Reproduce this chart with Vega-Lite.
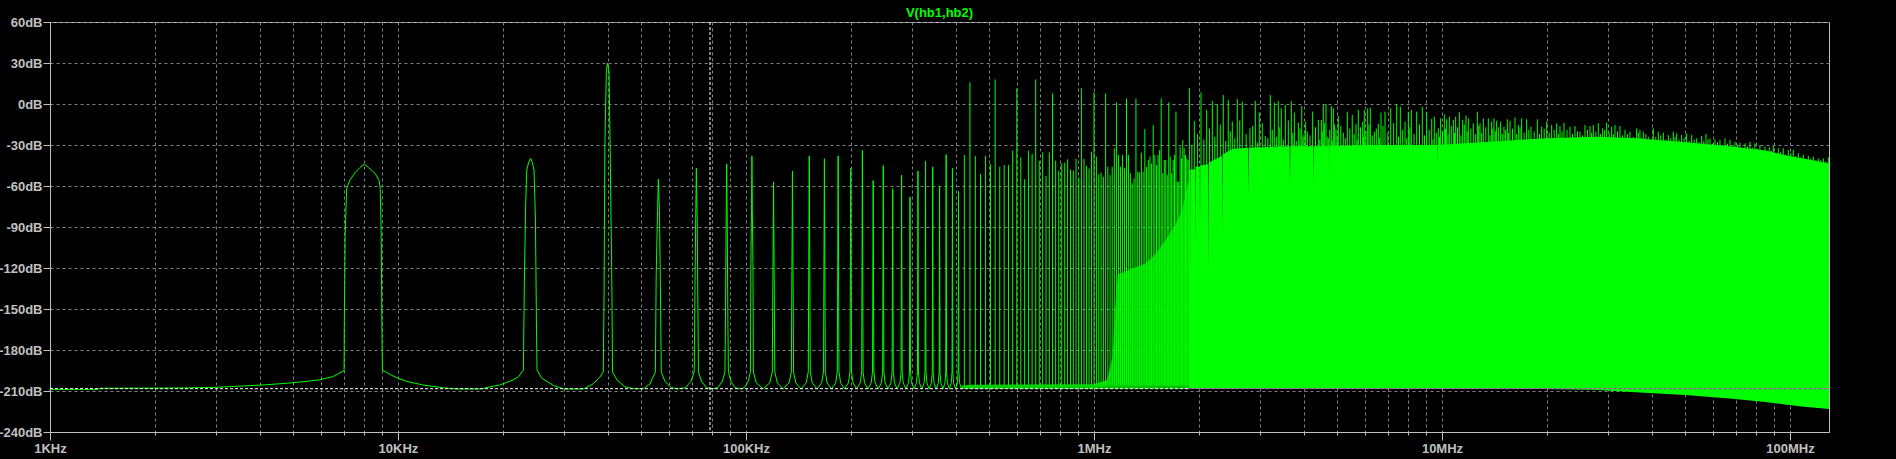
{
"$schema":"https://vega.github.io/schema/vega-lite/v6.json",
"width":1779,"height":410,
"autosize":{"type":"none"},
"padding":{"left":50,"top":22,"right":67,"bottom":27},
"background":"#000000",
"title":{"text":"V(hb1,hb2)","color":"#00ff00","font":"Liberation Sans","fontSize":13,"fontWeight":"bold","anchor":"middle","offset":-4},
"config":{"view":{"stroke":"#c0c0c0","strokeWidth":1},
"axis":{"labelColor":"#c0c0c0","labelFont":"Liberation Sans","labelFontSize":13,"labelFontWeight":"bold","gridColor":"#808080","gridDash":[3,3],"gridWidth":1,"domainColor":"#c0c0c0","tickColor":"#c0c0c0","title":null}},
"datasets":{
"lo":[
{"f":1,"v":-208.8},{"f":1.37,"v":-208.8},{"f":1.4,"v":-208},{"f":2.4,"v":-207.8},{"f":3,"v":-207.3},{"f":3.6,"v":-206.3},{"f":4.2,"v":-205.4},{"f":4.8,"v":-204.3},{"f":5.35,"v":-203.2},{"f":5.95,"v":-201.8},{"f":6.5,"v":-199.5},{"f":7,"v":-195.1},
{"f":7.01,"v":-161.7},{"f":7.05,"v":-95.9},{"f":7.12,"v":-61.7},{"f":7.28,"v":-55.6},{"f":7.52,"v":-50.3},{"f":7.78,"v":-46.4},{"f":8,"v":-44},{"f":8.22,"v":-46.4},{"f":8.59,"v":-50.8},{"f":8.82,"v":-55.6},{"f":8.89,"v":-61.7},{"f":8.95,"v":-95.9},{"f":8.99,"v":-161.7},{"f":9.02,"v":-194.6},
{"f":9.5,"v":-198},{"f":10,"v":-200.7},{"f":10.7,"v":-203.2},{"f":11.8,"v":-205.6},{"f":13.6,"v":-207.8},{"f":14.7,"v":-208.5},{"f":17.2,"v":-208.5},{"f":19.6,"v":-205.6},{"f":21.4,"v":-202},{"f":22.2,"v":-199.5},{"f":22.93,"v":-194.6},
{"f":23,"v":-161.7},{"f":23.1,"v":-121.5},{"f":23.27,"v":-73.9},{"f":23.44,"v":-48.3},{"f":23.75,"v":-42.5},{"f":24.04,"v":-39.7},{"f":24.3,"v":-42.5},{"f":24.6,"v":-48.3},{"f":24.83,"v":-84.9},{"f":24.99,"v":-158},{"f":25.09,"v":-194.6},
{"f":25.9,"v":-200.7},{"f":28,"v":-206},{"f":29.9,"v":-208.5},{"f":34.1,"v":-208.5},{"f":36.3,"v":-205},{"f":38,"v":-200},{"f":38.9,"v":-196},
{"f":39.1,"v":-140},{"f":39.3,"v":-30},{"f":39.7,"v":24},{"f":40,"v":30},{"f":40.4,"v":24},{"f":40.7,"v":-30},{"f":41.2,"v":-140},{"f":41.35,"v":-196},
{"f":42.6,"v":-201.9},{"f":44.8,"v":-206.8},{"f":47.4,"v":-208.3},{"f":50.8,"v":-208.3},{"f":52.9,"v":-205},{"f":54.9,"v":-196},
{"f":55.2,"v":-125},{"f":55.7,"v":-78},{"f":56,"v":-55},{"f":56.4,"v":-78},{"f":56.7,"v":-125},{"f":57.1,"v":-196},
{"f":58.5,"v":-203},{"f":61,"v":-207.5},{"f":64,"v":-208.5},{"f":67,"v":-207.5},{"f":69.5,"v":-203},{"f":71,"v":-196},
{"f":71.2,"v":-158},{"f":71.7,"v":-84},{"f":72,"v":-47},{"f":72.4,"v":-84},{"f":72.8,"v":-158},{"f":73,"v":-196},
{"f":74.5,"v":-203},{"f":77,"v":-207.5},{"f":80,"v":-208.5},{"f":83,"v":-207.5},{"f":85.5,"v":-203},{"f":87,"v":-196},
{"f":87.3,"v":-157},{"f":87.7,"v":-82},{"f":88,"v":-44},{"f":88.3,"v":-82},{"f":88.7,"v":-157},{"f":89,"v":-196},
{"f":90.5,"v":-203},{"f":93,"v":-207.5},{"f":96,"v":-208.5},{"f":99,"v":-207.5},{"f":101.5,"v":-203},{"f":103,"v":-196},
{"f":103.3,"v":-116},{"f":103.7,"v":-78},{"f":104,"v":-38},{"f":104.3,"v":-78},{"f":104.7,"v":-116},{"f":105,"v":-196},
{"f":107,"v":-204},{"f":112,"v":-208.5},{"f":117,"v":-204},
{"f":119,"v":-196},{"f":119.5,"v":-126},{"f":120,"v":-57},{"f":120.5,"v":-126},{"f":121,"v":-196},{"f":123,"v":-204},{"f":128,"v":-208.5},{"f":133,"v":-204},
{"f":135,"v":-196},{"f":135.5,"v":-122},{"f":136,"v":-49},{"f":136.5,"v":-122},{"f":137,"v":-196},{"f":139,"v":-204},{"f":144,"v":-208.5},{"f":149,"v":-204},
{"f":151,"v":-196},{"f":151.5,"v":-116},{"f":152,"v":-38},{"f":152.5,"v":-116},{"f":153,"v":-196},{"f":155,"v":-204},{"f":160,"v":-208.5},{"f":165,"v":-204},
{"f":167,"v":-196},{"f":167.5,"v":-118},{"f":168,"v":-40},{"f":168.5,"v":-118},{"f":169,"v":-196},{"f":171,"v":-204},{"f":176,"v":-208.5},{"f":181,"v":-204},
{"f":183,"v":-196},{"f":183.5,"v":-116},{"f":184,"v":-38},{"f":184.5,"v":-116},{"f":185,"v":-196},{"f":187,"v":-204},{"f":192,"v":-208.5},{"f":197,"v":-204},
{"f":199,"v":-196},{"f":199.5,"v":-121},{"f":200,"v":-47},{"f":200.5,"v":-121},{"f":201,"v":-196},{"f":203,"v":-204},{"f":208,"v":-208.5},{"f":213,"v":-204},
{"f":215,"v":-196},{"f":215.5,"v":-115},{"f":216,"v":-34},{"f":216.5,"v":-115},{"f":217,"v":-196},{"f":219,"v":-204},{"f":224,"v":-208.5},{"f":229,"v":-204},
{"f":231,"v":-196},{"f":231.5,"v":-126},{"f":232,"v":-56},{"f":232.5,"v":-126},{"f":233,"v":-196},{"f":235,"v":-204},{"f":240,"v":-208.5},{"f":245,"v":-204},
{"f":247,"v":-196},{"f":247.5,"v":-119},{"f":248,"v":-45},{"f":248.5,"v":-119},{"f":249,"v":-196},{"f":251,"v":-204},{"f":256,"v":-208.5},{"f":261,"v":-204},
{"f":263,"v":-196},{"f":263.5,"v":-129},{"f":264,"v":-62},{"f":264.5,"v":-129},{"f":265,"v":-196},{"f":267,"v":-204},{"f":272,"v":-208.5},{"f":277,"v":-204},
{"f":279,"v":-196},{"f":279.5,"v":-124},{"f":280,"v":-52},{"f":280.5,"v":-124},{"f":281,"v":-196},{"f":283,"v":-204},{"f":288,"v":-208.5},{"f":293,"v":-204},
{"f":295,"v":-196},{"f":295.5,"v":-131},{"f":296,"v":-68},{"f":296.5,"v":-131},{"f":297,"v":-196},{"f":299,"v":-204},{"f":304,"v":-208.5},{"f":309,"v":-204},
{"f":311,"v":-196},{"f":311.5,"v":-121},{"f":312,"v":-49},{"f":312.5,"v":-121},{"f":313,"v":-196},{"f":315,"v":-204},{"f":320,"v":-208.5},{"f":325,"v":-204},
{"f":327,"v":-196},{"f":327.5,"v":-118},{"f":328,"v":-42},{"f":328.5,"v":-118},{"f":329,"v":-196},{"f":331,"v":-204},{"f":336,"v":-208.5},{"f":341,"v":-204},
{"f":343,"v":-196},{"f":343.5,"v":-119},{"f":344,"v":-46},{"f":344.5,"v":-119},{"f":345,"v":-196},{"f":347,"v":-204},{"f":352,"v":-208.5},{"f":357,"v":-204},
{"f":359,"v":-196},{"f":359.5,"v":-128},{"f":360,"v":-60},{"f":360.5,"v":-128},{"f":361,"v":-196},{"f":363,"v":-204},{"f":368,"v":-208.5},{"f":373,"v":-204},
{"f":375,"v":-196},{"f":375.5,"v":-116},{"f":376,"v":-37},{"f":376.5,"v":-116},{"f":377,"v":-196},{"f":379,"v":-204},{"f":384,"v":-208.5},{"f":389,"v":-204},
{"f":391,"v":-196},{"f":391.5,"v":-122},{"f":392,"v":-47},{"f":392.5,"v":-122},{"f":393,"v":-196},{"f":395,"v":-204},{"f":400,"v":-208.5},{"f":405,"v":-204},
{"f":407,"v":-196},{"f":407.5,"v":-130},{"f":408,"v":-64},{"f":408.5,"v":-130},{"f":409,"v":-196},{"f":411,"v":-204},{"f":416,"v":-208.5}
],
"band1":[
{"f":416,"t":-206,"b":-208.5},{"f":440,"t":-205.5,"b":-208.5},{"f":1000,"t":-205,"b":-208.5},{"f":1090,"t":-202,"b":-208.5}
],
"band2":[
{"f":1090,"t":-202,"b":-208.5},{"f":1130,"t":-185,"b":-208.5},{"f":1150,"t":-150,"b":-208.5},{"f":1170,"t":-125,"b":-208.5},{"f":1300,"t":-120,"b":-208.5},{"f":1400,"t":-117,"b":-208.5},{"f":1500,"t":-110,"b":-208.5},{"f":1600,"t":-100,"b":-208.5},{"f":1700,"t":-90,"b":-208.5},{"f":1780,"t":-80,"b":-208.5},{"f":1840,"t":-65,"b":-208.5},{"f":1875,"t":-55,"b":-208.5}
],
"band3":[
{"f":1875,"t":-48,"b":-208.5},
{"f":1886,"t":-48,"b":-208.5},{"f":1888,"t":-121,"b":-208.5},{"f":1890,"t":-48,"b":-208.5},{"f":1953,"t":-48,"b":-208.5},{"f":1956,"t":-103,"b":-208.5},{"f":1959,"t":-46,"b":-208.5},{"f":2013,"t":-46,"b":-208.5},{"f":2017,"t":-92,"b":-208.5},{"f":2021,"t":-45,"b":-208.5},{"f":2127,"t":-44,"b":-208.5},{"f":2131,"t":-122,"b":-208.5},{"f":2135,"t":-43,"b":-208.5},{"f":2332,"t":-38,"b":-208.5},{"f":2337,"t":-94,"b":-208.5},{"f":2342,"t":-37,"b":-208.5},{"f":2500,"t":-33,"b":-208.5},{"f":2770,"t":-32,"b":-208.5},{"f":2776,"t":-66,"b":-208.5},{"f":2782,"t":-32,"b":-208.5},{"f":3650,"t":-31,"b":-208.5},{"f":3658,"t":-59,"b":-208.5},{"f":3666,"t":-31,"b":-208.5},{"f":4260,"t":-31,"b":-208.5},{"f":4268,"t":-60,"b":-208.5},{"f":4276,"t":-31,"b":-208.5},{"f":4738,"t":-31,"b":-208.5},{"f":4745,"t":-58,"b":-208.5},{"f":4752,"t":-31,"b":-208.5},{"f":6000,"t":-30,"b":-208.5},{"f":8000,"t":-30,"b":-208.5},{"f":9680,"t":-30,"b":-208.5},{"f":9696,"t":-43,"b":-208.5},{"f":9712,"t":-30,"b":-208.5},{"f":15000,"t":-27,"b":-208.5},{"f":20000,"t":-25,"b":-208.5},{"f":28000,"t":-24,"b":-209.3},{"f":36000,"t":-25,"b":-211},{"f":50000,"t":-28,"b":-213},{"f":67000,"t":-31,"b":-215.5},{"f":85000,"t":-34,"b":-218},{"f":99000,"t":-38,"b":-220.2},{"f":110000,"t":-40,"b":-221.5},{"f":129450,"t":-43.5,"b":-223.2}
],
"spk":[
{"f":424,"p":-37.3},{"f":440,"p":15.9},{"f":456,"p":-38},{"f":472,"p":-51.2},{"f":488,"p":-38},{"f":504,"p":-43.9},{"f":520,"p":18},{"f":536,"p":-45.9},{"f":552,"p":-44.6},{"f":568,"p":-44.6},{"f":584,"p":-34.1},{"f":600,"p":11.5},{"f":616,"p":-39},{"f":632,"p":-55.1},{"f":648,"p":-34.1},{"f":664,"p":-36.6},{"f":680,"p":18},{"f":696,"p":-41.5},{"f":712,"p":-35.4},{"f":728,"p":-52.7},{"f":744,"p":-35.4},{"f":760,"p":7.8},{"f":776,"p":-41.5},{"f":792,"p":-49},{"f":808,"p":-43.4},{"f":824,"p":-42.9},{"f":840,"p":-40.5},{"f":856,"p":-48},{"f":872,"p":-48.8},{"f":888,"p":-40},{"f":904,"p":-54},{"f":920,"p":11.5},{"f":936,"p":-40.2},{"f":952,"p":-45.4},{"f":968,"p":-47.1},{"f":984,"p":-34.9},{"f":1000,"p":8.6},{"f":1016,"p":-38.5},{"f":1032,"p":-51.5},{"f":1048,"p":-50.2},{"f":1064,"p":-53.2},{"f":1080,"p":7.8},{"f":1096,"p":-45.9},{"f":1112,"p":-52},{"f":1128,"p":-45.9},{"f":1144,"p":-32.4},{"f":1160,"p":1.2},{"f":1176,"p":-37.3},{"f":1192,"p":-45.9},{"f":1208,"p":-37.3},{"f":1224,"p":-47.1},{"f":1240,"p":4},{"f":1256,"p":-37.3},{"f":1272,"p":-50.7},{"f":1288,"p":-58},{"f":1304,"p":-54.4},{"f":1320,"p":4},{"f":1336,"p":-49.5},{"f":1352,"p":-50.2},{"f":1368,"p":-35.6},{"f":1384,"p":-49.5},{"f":1400,"p":-18.5},{"f":1416,"p":-45.9},{"f":1432,"p":-41},{"f":1448,"p":-38.5},{"f":1464,"p":-43.4},{"f":1480,"p":-15.4},{"f":1496,"p":-37.3},{"f":1512,"p":-44.6},{"f":1528,"p":-37.3},{"f":1544,"p":-33.7},{"f":1560,"p":4.1},{"f":1576,"p":-50.7},{"f":1592,"p":-41},{"f":1608,"p":-41},{"f":1624,"p":-52},{"f":1640,"p":1.2},{"f":1656,"p":-38.5},{"f":1672,"p":-50.7},{"f":1688,"p":-41},{"f":1704,"p":-37.3},{"f":1720,"p":-5.6},{"f":1736,"p":-56.8},{"f":1752,"p":-56.8},{"f":1768,"p":-31.2},{"f":1784,"p":-39.8},{"f":1800,"p":-26.3},{"f":1816,"p":-32.4},{"f":1832,"p":-37.3},{"f":1848,"p":-39.8},{"f":1864,"p":-41},{"f":1880,"p":11.5},
{"f":1942,"p":-12.4},{"f":2030,"p":8.5},{"f":2108,"p":-4.4},{"f":2188,"p":2.2},{"f":2261,"p":-0.2},{"f":2352,"p":6.6},{"f":2431,"p":2.9},{"f":2497,"p":-12.9},{"f":2581,"p":3.7},{"f":2668,"p":1.7},{"f":2807,"p":-17.8},{"f":2908,"p":2.2},{"f":2985,"p":-6.1},{"f":3106,"p":-23.4},{"f":3211,"p":6.6},{"f":3297,"p":1},{"f":3385,"p":2.2},{"f":3453,"p":-3.2},{"f":3546,"p":-0.7},{"f":3690,"p":2.2},{"f":3764,"p":-6.3},{"f":3865,"p":-13.7},{"f":3954,"p":-1.5},{"f":4013,"p":-22.2},{"f":4102,"p":-20.2},{"f":4250,"p":-5.6},{"f":4411,"p":-11.7},{"f":4500,"p":-11.7},{"f":4559,"p":-0.7},{"f":4642,"p":0},{"f":4713,"p":-25.1},{"f":4808,"p":-1.5},{"f":4872,"p":-3.2},{"f":4959,"p":-18.5},{"f":5035,"p":-8.8},{"f":5204,"p":-21},{"f":5344,"p":-5.6},{"f":5523,"p":-8},{"f":5661,"p":-14.6},{"f":5748,"p":-4.4},{"f":5917,"p":-12.9},{"f":5980,"p":-4.4},{"f":6116,"p":-3.2},{"f":6223,"p":-2.7},{"f":6390,"p":-20.2},{"f":6561,"p":-14.6},{"f":6679,"p":-6.3},{"f":6858,"p":-5.6},{"f":7122,"p":-3.2},{"f":7410,"p":-0.2},{"f":7590,"p":-2},{"f":7830,"p":-12.9},{"f":8003,"p":-5.6},{"f":8163,"p":-4.4},{"f":8459,"p":-5.6},{"f":8778,"p":-2},{"f":9036,"p":-5.6},{"f":9342,"p":-11},{"f":9504,"p":-9.3},{"f":9759,"p":-17.8},
{"f":1911,"p":-30},{"f":1985,"p":-22},{"f":2069,"p":-26},{"f":2148,"p":-18},{"f":2224,"p":-24},{"f":2306,"p":-15},{"f":2391,"p":-27},{"f":2464,"p":-20},{"f":2539,"p":-25},{"f":2624,"p":-12},{"f":2737,"p":-22},{"f":2857,"p":-16},{"f":2946,"p":-28},{"f":3045,"p":-14},{"f":3158,"p":-25},{"f":3254,"p":-19},{"f":3341,"p":-24},{"f":3419,"p":-17},{"f":3499,"p":-26},{"f":3617,"p":-12},{"f":3727,"p":-21},{"f":3814,"p":-27},{"f":3909,"p":-18},{"f":3983,"p":-24},{"f":4057,"p":-13},{"f":4176,"p":-23},{"f":4330,"p":-17},{"f":4455,"p":-26},{"f":4529,"p":-20},{"f":4600,"p":-14},{"f":4677,"p":-24},{"f":4760,"p":-19},{"f":4840,"p":-27},{"f":4915,"p":-15},{"f":4997,"p":-23},{"f":5119,"p":-16},{"f":5274,"p":-25},{"f":5433,"p":-18},{"f":5592,"p":-22},{"f":5704,"p":-26},{"f":5832,"p":-17},{"f":5948,"p":-24},{"f":6048,"p":-20},{"f":6169,"p":-15},{"f":6306,"p":-23},{"f":6475,"p":-18},{"f":6620,"p":-25},{"f":6768,"p":-16},{"f":6989,"p":-21},{"f":7265,"p":-14},{"f":7500,"p":-24},{"f":7709,"p":-19},{"f":7916,"p":-25},{"f":8083,"p":-17},{"f":8310,"p":-22},{"f":8617,"p":-15},{"f":8906,"p":-23},{"f":9188,"p":-19},{"f":9423,"p":-26},{"f":9631,"p":-21},{"f":9835,"p":-24},
{"f":9912,"p":-10.5},{"f":10155,"p":-7.6},{"f":10314,"p":-11.2},{"f":10498,"p":-9.3},{"f":10779,"p":-11.7},{"f":10947,"p":-9.3},{"f":11216,"p":-6.1},{"f":11466,"p":-11.7},{"f":11722,"p":-8.5},{"f":11904,"p":-10.5},{"f":12304,"p":-14.1},{"f":12634,"p":-5.6},{"f":12859,"p":-14.1},{"f":13145,"p":-10.5},{"f":13587,"p":-10.5},{"f":13890,"p":-12.9},{"f":14106,"p":-10.5},{"f":14357,"p":-12.2},{"f":14742,"p":-12.9},{"f":15071,"p":-16.6},{"f":15407,"p":-11.2},{"f":15681,"p":-12.2},{"f":16208,"p":-9.8},{"f":16570,"p":-15.4},{"f":16939,"p":-10.5},{"f":17508,"p":-11.2},{"f":18018,"p":-16.6},{"f":18790,"p":-11.2},{"f":19338,"p":-16.6},{"f":19989,"p":-12.9},{"f":20661,"p":-15.4},{"f":21355,"p":-14.1},{"f":21831,"p":-16.1},{"f":22416,"p":-13.7},{"f":23324,"p":-16.6},{"f":24108,"p":-16.1},{"f":24919,"p":-20.2},{"f":25757,"p":-15.4},{"f":26624,"p":-16.1},{"f":27218,"p":-15.4},{"f":28133,"p":-14.1},{"f":28951,"p":-17.8},{"f":29728,"p":-13.7},{"f":30728,"p":-16.6},{"f":31413,"p":-15.4},{"f":32469,"p":-16.1},{"f":33561,"p":-19},{"f":34690,"p":-20.2},{"f":36254,"p":-17.8},{"f":37063,"p":-19},{"f":37890,"p":-20.2},{"f":39163,"p":-23.9},{"f":40480,"p":-17.8},{"f":41841,"p":-20.2},{"f":43250,"p":-21},{"f":44705,"p":-22.7},{"f":46208,"p":-20.2},{"f":47240,"p":-21.5},{"f":48829,"p":-22.7},{"f":50470,"p":-21.5},{"f":52167,"p":-22.7},{"f":53922,"p":-25.1},{"f":55736,"p":-23.4},{"f":57356,"p":-22},{"f":58895,"p":-25.1},{"f":60875,"p":-25.8},{"f":62922,"p":-26.3},{"f":65039,"p":-25.1},{"f":67225,"p":-26.3},{"f":69486,"p":-27.6},{"f":71823,"p":-28.3},{"f":74238,"p":-28.8},{"f":76736,"p":-27.6},{"f":79316,"p":-28.8},{"f":81983,"p":-30},{"f":84739,"p":-31.2},{"f":87204,"p":-31.7},{"f":89542,"p":-30.7},{"f":92554,"p":-32.4},{"f":95666,"p":-32.4},{"f":98896,"p":-33.6},{"f":102224,"p":-33.6},{"f":105660,"p":-36.1},{"f":109214,"p":-37.3},{"f":112887,"p":-38},{"f":116684,"p":-38.5},{"f":120608,"p":-39.8},{"f":124661,"p":-39.8},{"f":128852,"p":-39},
{"f":10033,"p":-20},{"f":10234,"p":-18},{"f":10405,"p":-22},{"f":10637,"p":-16},{"f":10863,"p":-21},{"f":11080,"p":-17},{"f":11340,"p":-23},{"f":11593,"p":-15},{"f":11813,"p":-20},{"f":12102,"p":-18},{"f":12468,"p":-22},{"f":12746,"p":-16},{"f":13001,"p":-21},{"f":13365,"p":-17},{"f":13738,"p":-23},{"f":13998,"p":-18},{"f":14231,"p":-20},{"f":14548,"p":-17},{"f":14906,"p":-22},{"f":15238,"p":-19},{"f":15544,"p":-21},{"f":15943,"p":-18},{"f":16388,"p":-22},{"f":16754,"p":-17},{"f":17222,"p":-21},{"f":17762,"p":-19},{"f":18400,"p":-20},{"f":19062,"p":-22},{"f":19662,"p":-18},{"f":20322,"p":-21},{"f":21005,"p":-19},{"f":21592,"p":-22},{"f":22121,"p":-20},{"f":22866,"p":-19},{"f":23713,"p":-22},{"f":24510,"p":-20},{"f":25335,"p":-23},{"f":26188,"p":-19},{"f":26920,"p":-21},{"f":27672,"p":-20},{"f":28540,"p":-22},{"f":29337,"p":-19},{"f":30225,"p":-21},{"f":31068,"p":-22},{"f":31938,"p":-20},{"f":33012,"p":-23},{"f":34122,"p":-22},{"f":35464,"p":-24},{"f":36656,"p":-21},{"f":37474,"p":-25},{"f":38523,"p":-22},{"f":39818,"p":-26},{"f":41156,"p":-24},{"f":42539,"p":-23},{"f":43972,"p":-26},{"f":45450,"p":-25},{"f":46721,"p":-24},{"f":48030,"p":-26},{"f":49643,"p":-25},{"f":51311,"p":-27},{"f":53037,"p":-26},{"f":54823,"p":-28},{"f":56540,"p":-27},{"f":58121,"p":-26},{"f":59877,"p":-29},{"f":61890,"p":-28},{"f":63972,"p":-30},{"f":66123,"p":-29},{"f":68347,"p":-31},{"f":70645,"p":-30},{"f":73021,"p":-32},{"f":75476,"p":-31},{"f":78015,"p":-32},{"f":80638,"p":-33},{"f":83350,"p":-34},{"f":85962,"p":-35},{"f":88365,"p":-34},{"f":91036,"p":-36},{"f":94097,"p":-35},{"f":97262,"p":-37},{"f":100549,"p":-36},{"f":103928,"p":-38},{"f":107422,"p":-39},{"f":111036,"p":-40},{"f":114771,"p":-40},{"f":118632,"p":-41},{"f":122623,"p":-41},{"f":126740,"p":-42}
]},
"layer":[
{"data":{"name":"band3"},"mark":{"type":"area","color":"#00ff00","opacity":1,"clip":true},
"encoding":{
"x":{"field":"f","type":"quantitative","title":null,"scale":{"type":"log","domain":[1,129450],"nice":false},
"axis":{"values":[1,2,3,4,5,6,7,8,9,10,20,30,40,50,60,70,80,90,100,200,300,400,500,600,700,800,900,1000,2000,3000,4000,5000,6000,7000,8000,9000,10000,20000,30000,40000,50000,60000,70000,80000,90000,100000],
"labelExpr":"datum.value == 1 ? '1KHz' : datum.value == 10 ? '10KHz' : datum.value == 100 ? '100KHz' : datum.value == 1000 ? '1MHz' : datum.value == 10000 ? '10MHz' : datum.value == 100000 ? '100MHz' : ''",
"tickSize":{"condition":{"test":"indexof([1,10,100,1000,10000,100000], datum.value) >= 0","value":8},"value":3},
"labelPadding":2,"labelBaseline":"top","labelAlign":"center","labelFlush":false,"labelOverlap":false,"labelBound":false,"grid":true}},
"y":{"field":"t","type":"quantitative","title":null,"scale":{"domain":[-240,60],"nice":false,"zero":false},
"axis":{"values":[-240,-210,-180,-150,-120,-90,-60,-30,0,30,60],"labelExpr":"datum.value + 'dB'","tickSize":7,"labelPadding":1,"grid":true}},
"y2":{"field":"b"}}},
{"data":{"name":"band2"},"mark":{"type":"area","color":"#00ff00","opacity":0.75,"clip":true},
"encoding":{"x":{"field":"f","type":"quantitative","title":null},"y":{"field":"t","type":"quantitative","title":null},"y2":{"field":"b"}}},
{"data":{"name":"band1"},"mark":{"type":"area","color":"#00ff00","opacity":0.8,"clip":true},
"encoding":{"x":{"field":"f","type":"quantitative","title":null},"y":{"field":"t","type":"quantitative","title":null},"y2":{"field":"b"}}},
{"data":{"name":"lo"},"mark":{"type":"line","color":"#00ff00","strokeWidth":1,"clip":true},
"encoding":{"x":{"field":"f","type":"quantitative","title":null},"y":{"field":"v","type":"quantitative","title":null}}},
{"data":{"name":"spk"},"mark":{"type":"rule","color":"#00ff00","strokeWidth":1},
"encoding":{"x":{"field":"f","type":"quantitative","title":null},"y":{"field":"p","type":"quantitative","title":null},"y2":{"datum":-206}}},
{"data":{"values":[{}]},"mark":{"type":"rule","color":"#ffffff","strokeWidth":1,"strokeDash":[3,2]},
"encoding":{"x":{"datum":78.8}}},
{"data":{"values":[{}]},"mark":{"type":"rule","color":"#ffffff","strokeWidth":1,"strokeDash":[3,2]},
"encoding":{"x":{"datum":1},"x2":{"datum":1870},"y":{"datum":-208.3}}},
{"data":{"values":[{}]},"mark":{"type":"rule","color":"#ff00ff","strokeWidth":1,"strokeDash":[3,2]},
"encoding":{"x":{"datum":1870},"x2":{"datum":129450},"y":{"datum":-208.3}}}
]
}
